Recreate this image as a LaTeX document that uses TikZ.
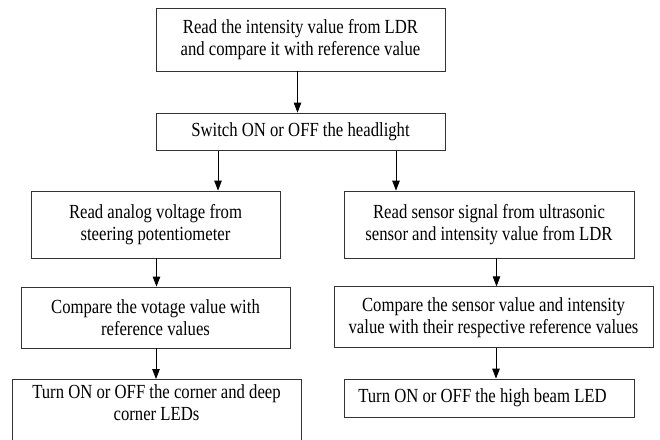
\documentclass[tikz,border=0pt]{standalone}
\usepackage{fontspec}
\setmainfont[FakeStretch=0.835]{Liberation Serif}
\usetikzlibrary{arrows.meta}
\begin{document}
\begin{tikzpicture}[x=1pt,y=-1pt,
	block/.style={draw=black!80,line width=0.8pt,align=center,inner sep=0pt,
		font=\fontsize{20}{22}\selectfont},
	arr/.style={draw=black,line width=0.8pt,-{Triangle[length=10pt,width=7.5pt]}}]
	\useasboundingbox (0,0) rectangle (660,439);
	\clip (0,0) rectangle (660,439);

	\node[block,minimum width=289pt,minimum height=62.5pt] (A) at (300.5,39.75)
		{Read the intensity value from LDR\\and compare it with reference value};
	\node[block,minimum width=289pt,minimum height=37.5pt] (B) at (300.5,131.75)
		{Switch ON or OFF the headlight};
	\node[block,minimum width=249pt,minimum height=67pt] (C) at (155.5,224.5)
		{Read analog voltage from\\steering potentiometer};
	\node[block,minimum width=290pt,minimum height=67pt] (D) at (489,224.5)
		{Read sensor signal from ultrasonic\\sensor and intensity value from LDR};
	\node[block,minimum width=269pt,minimum height=61pt] (E) at (155.5,317.5)
		{Compare the votage value with\\reference values};
	\node[block,minimum width=319pt,minimum height=61pt] (F) at (493.5,317.25)
		{Compare the sensor value and intensity\\value with their respective reference values};
	\node[block,minimum width=289pt,inner ysep=5.6pt,anchor=north] (G) at (156.5,379)
		{Turn ON or OFF the corner and deep\\corner LEDs\rule[-30pt]{0pt}{0pt}};
	\node[block,minimum width=290pt,minimum height=38.3pt] (H) at (489,398.15)
		{Turn ON or OFF the high beam LED\hspace*{13pt}};

	\path ([xshift=-3pt]A.south) edge[arr] ([xshift=-3pt]A.south |- B.north);
	\path ([xshift=-82.5pt]B.south) edge[arr] ([xshift=-82.5pt]B.south |- C.north);
	\path ([xshift=95.5pt]B.south) edge[arr] ([xshift=95.5pt]B.south |- D.north);
	\path ([xshift=1pt]C.south) edge[arr] ([xshift=1pt]C.south |- E.north);
	\path ([xshift=7.5pt]D.south) edge[arr] ([xshift=7.5pt]D.south |- F.north);
	\path ([xshift=0.5pt]E.south) edge[arr] ([xshift=0.5pt]E.south |- G.north);
	\path ([xshift=2.5pt]F.south) edge[arr] ([xshift=2.5pt]F.south |- H.north);
\end{tikzpicture}
\end{document}
